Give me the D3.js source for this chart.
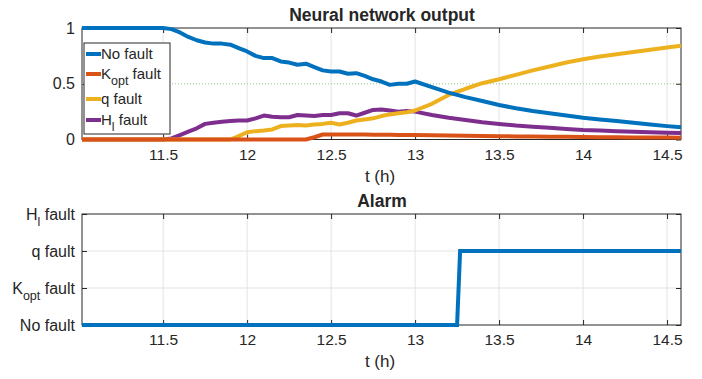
<!DOCTYPE html>
<html>
<head>
<meta charset="utf-8">
<script src="https://cdn.jsdelivr.net/npm/d3@7"></script>
<style>
  body { margin: 0; background: #fff; }
  text { font-family: "Liberation Sans", Arial, sans-serif; fill: #262626; }
</style>
</head>
<body>
<div id="container"></div>
<script>
// time axis (hours) shared by the network outputs
var t = [11.017, 11.5, 11.55, 11.6, 11.65, 11.7, 11.75, 11.8, 11.85, 11.9, 11.95,
  12.0, 12.05, 12.1, 12.15, 12.2, 12.25, 12.3, 12.35, 12.4, 12.45, 12.5, 12.55,
  12.6, 12.65, 12.7, 12.75, 12.8, 12.85, 12.9, 12.95, 13.0, 13.1, 13.2, 13.3,
  13.4, 13.5, 13.6, 13.7, 13.8, 13.9, 14.0, 14.1, 14.2, 14.3, 14.4, 14.5, 14.583];

var noFault = [1, 1, 0.99, 0.96, 0.92, 0.89, 0.87, 0.86, 0.86, 0.85, 0.82,
  0.79, 0.75, 0.73, 0.73, 0.70, 0.69, 0.67, 0.68, 0.65, 0.62, 0.61, 0.61,
  0.59, 0.595, 0.57, 0.54, 0.52, 0.49, 0.50, 0.50, 0.52, 0.47, 0.42, 0.38,
  0.345, 0.31, 0.28, 0.255, 0.235, 0.215, 0.195, 0.18, 0.165, 0.15, 0.135, 0.12, 0.11];

var koptFault = [0, 0, 0, 0, 0, 0, 0, 0, 0, 0, 0,
  0, 0, 0, 0, 0, 0, 0, 0, 0.02, 0.045, 0.045, 0.045,
  0.045, 0.044, 0.044, 0.043, 0.043, 0.042, 0.041, 0.041, 0.04, 0.038, 0.036, 0.034,
  0.032, 0.03, 0.028, 0.027, 0.025, 0.024, 0.022, 0.021, 0.02, 0.019, 0.018, 0.017, 0.016];

var qFault = [0, 0, 0, 0, 0, 0, 0, 0, 0, 0, 0.03,
  0.065, 0.075, 0.08, 0.09, 0.12, 0.125, 0.13, 0.125, 0.135, 0.14, 0.15, 0.135,
  0.15, 0.17, 0.18, 0.19, 0.21, 0.225, 0.235, 0.245, 0.26, 0.32, 0.40, 0.455,
  0.505, 0.54, 0.58, 0.62, 0.655, 0.69, 0.72, 0.745, 0.765, 0.785, 0.805, 0.825, 0.84];

var hlFault = [0, 0, 0.01, 0.04, 0.07, 0.10, 0.14, 0.15, 0.16, 0.165, 0.17,
  0.17, 0.19, 0.215, 0.205, 0.20, 0.20, 0.22, 0.215, 0.21, 0.22, 0.22, 0.235,
  0.235, 0.215, 0.24, 0.265, 0.27, 0.26, 0.25, 0.255, 0.25, 0.22, 0.195, 0.175,
  0.155, 0.14, 0.125, 0.115, 0.105, 0.095, 0.085, 0.08, 0.075, 0.07, 0.065, 0.06, 0.058];

// alarm signal
var alarmT = [11.017, 13.25, 13.268, 14.583];
var alarmLevel = [0, 0, 2, 2];

var xTicks = [11.5, 12, 12.5, 13, 13.5, 14, 14.5];
var yTicksTop = [0, 0.5, 1];
var alarmNames = [['No fault', ''], ['K', 'opt'], ['q fault', ''], ['H', 'l']];
var legendLabels = [['No fault', ''], ['K', 'opt'], ['q fault', ''], ['H', 'l']];

var series = [
  { data: noFault, color: '#0072BD' },
  { data: koptFault, color: '#D95319' },
  { data: qFault, color: '#EDB120' },
  { data: hlFault, color: '#7E2F8E' }
];

var W = 702, H = 379,
  left = 82, right = 681,
  fs = 15.5;

var svg = d3.select('#container').append('svg')
  .attr('width', W).attr('height', H);

var x = d3.scaleLinear().domain([11.017, 14.583]).range([left, right]);

// writes "K_opt fault" style labels with a subscript
function labelText(sel, main, sub) {
  if (!sub) { sel.text(main); return; }
  sel.append('tspan').text(main);
  sel.append('tspan').attr('dy', 6).style('font-size', '12.5px').text(sub);
  sel.append('tspan').attr('dy', -6).text(' fault');
}

function drawFrame(top, bottom, y, yTicks, yLabels, hGrid, title) {
  var g = svg.append('g');
  g.selectAll('.vg').data(xTicks).enter().append('line')
    .attr('x1', x).attr('x2', x).attr('y1', top).attr('y2', bottom)
    .attr('stroke', '#e3e3e3').attr('stroke-width', 1);
  g.selectAll('.hg').data(hGrid).enter().append('line')
    .attr('x1', left).attr('x2', right).attr('y1', y).attr('y2', y)
    .attr('stroke', '#e3e3e3').attr('stroke-width', 1);

  var xa = d3.axisBottom(x).tickValues(xTicks).tickSize(-5).tickPadding(9)
    .tickFormat(d3.format('~g'));
  var xt = d3.axisTop(x).tickValues(xTicks).tickSize(-5).tickFormat('');
  var ya = d3.axisLeft(y).tickValues(yTicks).tickSize(-5).tickFormat('');
  var yr = d3.axisRight(y).tickValues(yTicks).tickSize(-5).tickFormat('');

  [[xa, 'translate(0,' + bottom + ')'], [xt, 'translate(0,' + top + ')'],
   [ya, 'translate(' + left + ',0)'], [yr, 'translate(' + right + ',0)']]
    .forEach(function (a) {
      var ax = g.append('g').attr('transform', a[1]).call(a[0]);
      ax.select('.domain').remove();
      ax.selectAll('line').attr('stroke', '#262626');
      ax.selectAll('text').style('font-size', fs + 'px')
        .style('font-family', '"Liberation Sans", Arial, sans-serif').attr('fill', '#262626');
    });

  yTicks.forEach(function (d, i) {
    var lab = g.append('text').attr('x', left - 7).attr('y', y(d) + 5.5)
      .attr('text-anchor', 'end').style('font-size', '16px');
    labelText(lab, yLabels[i][0], yLabels[i][1]);
  });

  g.append('rect').attr('x', left).attr('y', top)
    .attr('width', right - left).attr('height', bottom - top)
    .attr('fill', 'none').attr('stroke', '#262626').attr('stroke-width', 1);

  g.append('text').attr('x', 382).attr('y', top - 7)
    .attr('text-anchor', 'middle').style('font-size', '17.5px')
    .style('font-weight', 'bold').attr('fill', '#000').text(title);
  g.append('text').attr('x', 380).attr('y', bottom + 42)
    .attr('text-anchor', 'middle').style('font-size', '17px').text('t (h)');
  return g;
}

// top panel
var yTop = d3.scaleLinear().domain([0, 1]).range([139.5, 28]);
drawFrame(28, 139.5, yTop, yTicksTop, [['0', ''], ['0.5', ''], ['1', '']], [], 'Neural network output');

svg.append('line').attr('x1', left).attr('x2', right)
  .attr('y1', yTop(0.5)).attr('y2', yTop(0.5))
  .attr('stroke', '#9bc98a').attr('stroke-width', 1).attr('stroke-dasharray', '1,2');

var line = d3.line()
  .x(function (d) { return x(d[0]); })
  .y(function (d) { return yTop(d[1]); });

series.slice().reverse().forEach(function (s) {
  svg.append('path')
    .datum(t.map(function (v, i) { return [v, s.data[i]]; }))
    .attr('d', line).attr('fill', 'none')
    .attr('stroke', s.color).attr('stroke-width', 4)
    .attr('stroke-linejoin', 'round');
});

// legend
var lg = svg.append('g');
lg.append('rect').attr('x', 84).attr('y', 43).attr('width', 86).attr('height', 91)
  .attr('fill', '#fff').attr('stroke', '#262626').attr('stroke-width', 1);
var legendY = [54, 74, 99, 120];
series.forEach(function (s, i) {
  var yy = legendY[i];
  lg.append('line').attr('x1', 86).attr('x2', 101).attr('y1', yy).attr('y2', yy)
    .attr('stroke', s.color).attr('stroke-width', 4);
  var tx = lg.append('text').attr('x', 101).attr('y', yy + 5).style('font-size', '15px')
    .attr('fill', '#000');
  labelText(tx, legendLabels[i][0], legendLabels[i][1]);
});

// bottom panel
var yBot = d3.scaleLinear().domain([0, 3]).range([325, 214]);
drawFrame(214, 325, yBot, [0, 1, 2, 3], alarmNames, [1, 2], 'Alarm');

var aline = d3.line()
  .x(function (d) { return x(d[0]); })
  .y(function (d) { return yBot(d[1]); });
svg.append('path')
  .datum(alarmT.map(function (v, i) { return [v, alarmLevel[i]]; }))
  .attr('d', aline).attr('fill', 'none')
  .attr('stroke', '#0072BD').attr('stroke-width', 4);
</script>
</body>
</html>
